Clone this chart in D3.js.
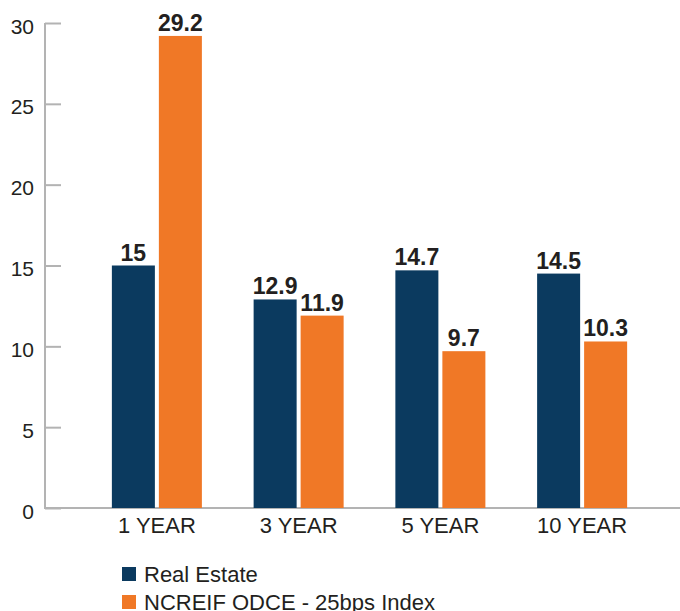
<!DOCTYPE html>
<html>
<head>
<meta charset="utf-8">
<script src="https://cdn.jsdelivr.net/npm/d3@7"></script>
<style>
  html, body { margin: 0; padding: 0; background: #fff; }
  svg { display: block; font-family: "Liberation Sans", Arial, sans-serif; }
</style>
</head>
<body>
<svg id="chart" width="680" height="611"></svg>
<script>
const categories = ["1 YEAR", "3 YEAR", "5 YEAR", "10 YEAR"];
const seriesNames = ["Real Estate", "NCREIF ODCE - 25bps Index"];
const realEstate = [15, 12.9, 14.7, 14.5];
const ncreif = [29.2, 11.9, 9.7, 10.3];
const yTicks = [0, 5, 10, 15, 20, 25, 30];
const colors = ["#0b3a5f", "#f07826"];

const seriesValues = [realEstate, ncreif];
const svg = d3.select("#chart");

const y = d3.scaleLinear().domain([0, 30]).range([508, 23]);
const x0 = d3.scaleBand().domain(categories).range([86, 653])
  .paddingInner(0.365).paddingOuter(0.1825);
const x1 = d3.scaleBand().domain(seriesNames).range([0, x0.bandwidth()])
  .paddingInner(0.085).paddingOuter(0);

const axisColor = "#b3b3b3";
const textColor = "#231f20";

// Y axis
const yAxis = svg.append("g").attr("transform", "translate(45,0)")
  .call(d3.axisRight(y).tickValues(yTicks).tickSize(16).tickFormat(() => ""));
yAxis.select(".domain").attr("stroke", axisColor).attr("stroke-width", 2)
  .attr("d", `M0,${y(30)}V${y(0)}`);
yAxis.selectAll(".tick line").attr("stroke", axisColor).attr("stroke-width", 2);

svg.append("g").selectAll("text").data(yTicks).join("text")
  .attr("x", 34).attr("y", d => y(d)).attr("dy", "0.5em")
  .attr("text-anchor", "end").attr("font-size", 21).attr("fill", textColor)
  .text(d => d);

// X axis baseline
const xAxis = svg.append("g").attr("transform", `translate(0,${y(0)})`)
  .call(d3.axisBottom(x0).tickSize(0).tickPadding(9));
xAxis.select(".domain").attr("stroke", axisColor).attr("stroke-width", 2)
  .attr("d", "M44,0H680");
xAxis.selectAll(".tick text").attr("font-size", 22).attr("fill", textColor)
  .attr("font-family", "Liberation Sans, Arial, sans-serif");

// Bars
const groups = svg.append("g").selectAll("g").data(categories).join("g")
  .attr("transform", d => `translate(${x0(d)},0)`);

groups.each(function(cat, i) {
  const g = d3.select(this);
  seriesNames.forEach((s, j) => {
    const v = seriesValues[j][i];
    g.append("rect")
      .attr("x", x1(s)).attr("y", y(v))
      .attr("width", x1.bandwidth()).attr("height", y(0) - y(v))
      .attr("fill", colors[j]);
    g.append("text")
      .attr("x", x1(s) + x1.bandwidth() / 2).attr("y", y(v) - 5)
      .attr("text-anchor", "middle").attr("font-size", 23).attr("font-weight", "bold")
      .attr("fill", textColor)
      .text(v);
  });
});

// Legend
const legend = svg.append("g").selectAll("g").data(seriesNames).join("g")
  .attr("transform", (d, i) => `translate(122,${567 + i * 28})`);
legend.append("rect").attr("width", 14).attr("height", 14).attr("fill", (d, i) => colors[i]);
legend.append("text").attr("x", 22).attr("y", 15)
  .attr("font-size", 22).attr("fill", textColor).text(d => d);
</script>
</body>
</html>
